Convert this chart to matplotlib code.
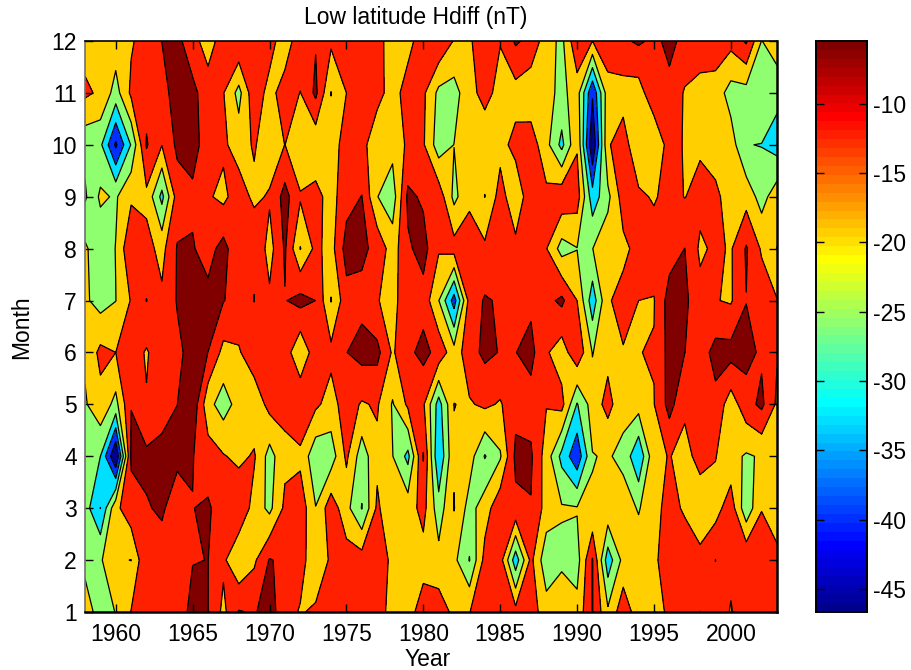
import matplotlib
matplotlib.use('Agg')
import matplotlib.pyplot as plt
from matplotlib.colors import ListedColormap
import numpy as np

plt.rcParams['font.family'] = ['Liberation Sans', 'DejaVu Sans']
plt.rcParams['axes.unicode_minus'] = False

months = list(range(1, 13))
years = list(range(1958, 2004))

# monthly values Jan..Dec, one list per year
y1958 = [-16, -21, -23, -22, -20, -18, -18, -18, -27, -24, -11, -15]
y1959 = [-22, -19.3, -33, -26, -14.5, -10.6, -22, -24, -18, -24.5, -13.5, -15]
y1960 = [-19, -18.5, -14, -47, -21.4, -12.3, -19.3, -19, -20, -41, -22, -15.5]
y1961 = [-12, -19.3, -8, -4.5, -5.6, -9, -11.8, -6, -13.5, -25.5, -11, -13]
y1962 = [-8, -6, -6, -4, -11.8, -13, -5.3, -10, -14, -4.8, -8, -9.5]
y1963 = [-8, -8.5, -4.5, -3.5, -8, -8, -11, -14.5, -28, -12.1, -7.5, -5.4]
y1964 = [-9, -10, -9, -4, -5.5, -7, -5, -5, -9, -4, -3, -3]
y1965 = [-3.5, -5.7, -5.6, -5.2, -0.5, -3, -3, -5, -6.5, -3.5, -3, -11]
y1966 = [-5.4, -5.4, -4.5, -9, -17, -5.5, -3.5, -8, -11.5, -8, -10.5, -14]
y1967 = [-14, -11, -9, -11.8, -22.4, -14.4, -5.2, -3, -14, -11, -12, -10.5]
y1968 = [-5, -18.5, -6.5, -14, -16.5, -13, -8, -11, -8.5, -15.6, -21.5, -6]
y1969 = [-6, -13.5, -15, -11.5, -17, -8, -5.4, -6, -14, -11.5, -7.5, -7]
y1970 = [-3, -5, -21, -22, -10, -9, -11, -15, -11.4, -17, -15, -9]
y1971 = [-9, -7, -10.8, -14, -10.5, -8.5, -5.8, -4.6, -3, -12.2, -8.5, -17]
y1972 = [-13, -9, -8, -14, -5.8, -18.5, -3.3, -19.5, -11.5, -19, -12.5, -7]
y1973 = [-11, -18, -19, -24, -11, -8, -5.5, -10.5, -10, -17.5, -4, -6]
y1974 = [-8, -11, -8, -23, -15, -10.5, -19.5, -15, -15, -16, -19.4, -11]
y1975 = [-8, -9, -17, -11, -9, -5.6, -8, -2.7, -8, -9, -12.3, -8]
y1976 = [-8, -9, -26.3, -23, -13, -3, -7.5, -4, -5.3, -10.5, -8, -8]
y1977 = [-9, -8, -11, -14, -11.5, -3.5, -11.8, -7.5, -19, -16, -10.5, -8]
y1978 = [-15, -14, -18, -19, -19.8, -13.2, -15.5, -15.7, -23, -17, -14.5, -18]
y1979 = [-15, -18, -15.5, -28, -11, -7, -6, -6.5, -4, -11, -10, -14]
y1980 = [-9, -15, -10, -5, -11.3, -3.5, -8, -3, -6.5, -11.5, -11, -9.5]
y1981 = [-8.5, -17, -23, -32.5, -29, -7.7, -19, -11.5, -8, -23, -21, -6]
y1982 = [-14, -17.5, -12, -13, -12.2, -16.5, -36, -9.5, -21, -19.1, -22, -12.8]
y1983 = [-12.5, -26.3, -22, -16, -13, -8, -9.5, -8, -14, -16, -14.5, -13]
y1984 = [-8, -10, -15.4, -26.5, -11, -4, -4.8, -11, -19.3, -17, -10, -9]
y1985 = [-9, -9.2, -7.5, -20, -13, -5.8, -6.2, -9, -9.5, -14.5, -14.6, -12]
y1986 = [-10, -30, -7, -4, -7.5, -5.6, -9, -10.5, -17, -10.2, -15, -4.5]
y1987 = [-9, -10.5, -5.8, -4.5, -8, -3.5, -6.8, -8, -8, -8.6, -17, -7.5]
y1988 = [-16, -24, -15, -15.5, -12, -11.5, -7.5, -12, -10.6, -17, -17, -16]
y1989 = [-13, -21, -18.5, -28, -10, -16, -4, -22, -7.4, -28, -21, -21]
y1990 = [-17, -22, -18.7, -38, -26.5, -7, -12.3, -19.4, -9, -13, -16, -6.5]
y1991 = [-5.2, -5, -18.5, -19.5, -16, -19.5, -30, -19.3, -30, -46, -39, -12.3]
y1992 = [-18, -30, -14, -18.5, -10, -14.3, -13, -15, -21, -13, -15.2, -8]
y1993 = [-8, -17, -16, -21, -17, -12.7, -10, -14, -9, -9, -15.2, -6.5]
y1994 = [-16, -15, -19.8, -32, -16.4, -12.4, -12.3, -10, -11, -18, -15.6, -4.5]
y1995 = [-14, -13, -14, -14, -12.5, -12, -12.6, -9, -13, -19, -7, -6.8]
y1996 = [-11.5, -10.3, -10.5, -12, -3, -3, -2.5, -8.5, -10, -9, -7, -4]
y1997 = [-9, -9, -13, -14.5, -11, -5.4, -4, -5.4, -12.5, -13, -13, -7]
y1998 = [-5.4, -10.5, -16.5, -10, -8, -9, -10, -13.5, -10, -13.3, -15, -8]
y1999 = [-8, -5.4, -15, -12, -7.5, -3, -12, -11, -11, -15, -15.5, -8]
y2000 = [-12.8, -10.5, -8.5, -17, -16, -3, -13, -13, -15, -16, -22, -10]
y2001 = [-8, -6, -24, -20, -8, -3.6, -5.6, -4.8, -15, -25.8, -22, -4.5]
y2002 = [-9, -8, -12.6, -18.5, -4, -6.5, -8, -13.2, -22, -26.2, -19.3, -19.4]
y2003 = [-10, -11, -15, -14, -13.5, -11.8, -12, -19.4, -15, -29, -24, -15]

hdiff = np.array([y1958, y1959, y1960, y1961, y1962, y1963, y1964, y1965, y1966, y1967,
                  y1968, y1969, y1970, y1971, y1972, y1973, y1974, y1975, y1976, y1977,
                  y1978, y1979, y1980, y1981, y1982, y1983, y1984, y1985, y1986, y1987,
                  y1988, y1989, y1990, y1991, y1992, y1993, y1994, y1995, y1996, y1997,
                  y1998, y1999, y2000, y2001, y2002, y2003]).T

cmin, cmax = -46.65, -5.47
edges = [-39.8, -32.9, -26.0, -19.2, -12.3, -5.47]
fill_levels = [-60] + edges + [10]
fill_colors = ['#00008f', '#0030ff', '#00dfff', '#8fff70', '#ffcf00', '#ff2000', '#800000']


def matlab_jet():
    # same steps as jet(64) in matlab, matplotlib's jet sits a bit off
    u = np.r_[np.arange(1, 17) / 16, np.ones(15), np.arange(16, 0, -1) / 16]
    rows = np.zeros((64, 3))
    g = np.arange(47) + 8
    rows[g, 1] = u
    r = g + 16
    keep = r < 64
    rows[r[keep], 0] = u[keep]
    b = g - 16
    keep = b >= 0
    rows[b[keep], 2] = u[keep]
    return ListedColormap(rows)


W, H = 911, 670
FS = 16.5
fig = plt.figure(figsize=(W / 100, H / 100), dpi=100)

ax = fig.add_axes([85 / W, 1 - 612 / H, (777 - 85) / W, (612 - 41) / H])
ax.contourf(years, months, hdiff, levels=fill_levels, colors=fill_colors)
ax.contour(years, months, hdiff, levels=edges, colors='k', linewidths=0.9, linestyles='solid')
ax.set_xlim(1958, 2003)
ax.set_ylim(1, 12)
ax.set_xticks(range(1960, 2001, 5))
ax.set_yticks(months)
ax.tick_params(direction='in', top=True, right=True, length=5.5, width=1, labelsize=FS)
ax.tick_params(axis='x', pad=8)
ax.tick_params(axis='y', pad=6)
for s in ax.spines.values():
    s.set_linewidth(1.2)
ax.spines['bottom'].set_linewidth(1.8)
ax.spines['right'].set_linewidth(1.8)
ax.spines['left'].set_color('#707070')

fig.text(416 / W, 1 - 24 / H, 'Low latitude Hdiff (nT)', fontsize=FS, ha='center', va='baseline')
fig.text(428 / W, 1 - 666 / H, 'Year', fontsize=FS, ha='center', va='baseline')
fig.text(22 / W, 1 - 327 / H, 'Month', fontsize=FS, ha='center', va='center', rotation=90)

cax = fig.add_axes([816 / W, 1 - 612 / H, (867 - 816) / W, (612 - 41) / H])
bar = np.linspace(cmin, cmax, 64).reshape(-1, 1)
cax.imshow(bar, aspect='auto', origin='lower', cmap=matlab_jet(), vmin=cmin, vmax=cmax,
           extent=[0, 1, cmin, cmax], interpolation='nearest')
cax.set_xticks([])
cax.set_yticks(range(-45, -9, 5))
cax.yaxis.tick_right()
cax.tick_params(axis='y', direction='in', left=True, right=True, length=6, width=1, labelsize=FS, pad=4)
for s in cax.spines.values():
    s.set_linewidth(1.4)

fig.savefig('out.png', dpi=100)
